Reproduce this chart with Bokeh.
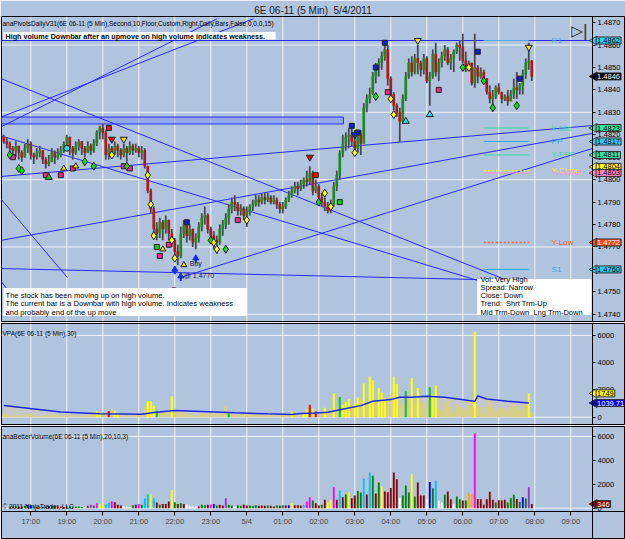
from math import pi
from bokeh.plotting import figure
from bokeh.models import Range1d, FixedTicker, PrintfTickFormatter, Label, LinearAxis, Title
from bokeh.layouts import column
from bokeh.embed import file_html
from bokeh.resources import INLINE
from bokeh.core.properties import value

# ---------------- data ----------------
time_labels = ["17:00", "19:00", "20:00", "21:00", "22:00", "23:00", "5/4", "01:00",
               "02:00", "03:00", "04:00", "05:00", "06:00", "07:00", "08:00", "09:00"]
time_bars = [9, 21, 33, 45, 57, 69, 81, 93, 105, 117, 129, 141, 153, 165, 177, 189]

price_ticks = [1.4740, 1.4750, 1.4760, 1.4770, 1.4780, 1.4790, 1.4800, 1.4810,
               1.4820, 1.4830, 1.4840, 1.4850, 1.4860, 1.4870]
price_grid = [1.4740, 1.4770, 1.4800, 1.4830, 1.4860]
vol_ticks = [0, 2000, 4000, 6000]
vol_grid = [0, 6000]

first_open = 1.4819
close = [1.4817, 1.4816, 1.4814, 1.4813, 1.4815, 1.4812, 1.4810, 1.4814, 1.4816, 1.4811,
         1.4810, 1.4812, 1.4813, 1.4809, 1.4807, 1.4808, 1.4812, 1.4810, 1.4811, 1.4813,
         1.4816, 1.4819, 1.4814, 1.4812, 1.4815, 1.4817, 1.4814, 1.4812, 1.4815, 1.4813,
         1.4816, 1.4821, 1.4823, 1.4821, 1.4811, 1.4814, 1.4812, 1.4815, 1.4813, 1.4811,
         1.4814, 1.4812, 1.4815, 1.4813, 1.4814, 1.4812, 1.4813, 1.4806, 1.4795, 1.4787,
         1.4778, 1.4776, 1.4781, 1.4778, 1.4782, 1.4776, 1.4773, 1.4768, 1.4766, 1.4776,
         1.4780, 1.4775, 1.4778, 1.4772, 1.4774, 1.4779, 1.4783, 1.4784, 1.4778, 1.4775,
         1.4773, 1.4772, 1.4778, 1.4780, 1.4783, 1.4787, 1.4790, 1.4789, 1.4786, 1.4787,
         1.4784, 1.4786, 1.4788, 1.4789, 1.4791, 1.4790, 1.4792, 1.4791, 1.4792, 1.4790,
         1.4791, 1.4789, 1.4787, 1.4788, 1.4791, 1.4793, 1.4795, 1.4797, 1.4796, 1.4798,
         1.4800, 1.4799, 1.4803, 1.4795, 1.4797, 1.4792, 1.4790, 1.4788, 1.4786, 1.4789,
         1.4797, 1.4802, 1.4812, 1.4816, 1.4819, 1.4820, 1.4817, 1.4814, 1.4820, 1.4816,
         1.4832, 1.4836, 1.4838, 1.4846, 1.4850, 1.4852, 1.4855, 1.4858, 1.4845, 1.4838,
         1.4833, 1.4830, 1.4826, 1.4836, 1.4846, 1.4852, 1.4848, 1.4854, 1.4852, 1.4849,
         1.4854, 1.4844, 1.4846, 1.4856, 1.4848, 1.4852, 1.4855, 1.4858, 1.4852, 1.4854,
         1.4857, 1.4860, 1.4859, 1.4853, 1.4850, 1.4852, 1.4843, 1.4850, 1.4846, 1.4848,
         1.4845, 1.4839, 1.4836, 1.4837, 1.4841, 1.4839, 1.4836, 1.4837, 1.4835, 1.4838,
         1.4841, 1.4840, 1.4842, 1.4847, 1.4852, 1.4853, 1.4846]
high = [1.4820, 1.4819, 1.4817, 1.4815, 1.4817, 1.4815, 1.4813, 1.4816, 1.4818, 1.4817,
        1.4812, 1.4814, 1.4815, 1.4813, 1.4810, 1.4811, 1.4814, 1.4813, 1.4814, 1.4815,
        1.4817, 1.4820, 1.4819, 1.4815, 1.4817, 1.4818, 1.4817, 1.4815, 1.4817, 1.4816,
        1.4818, 1.4822, 1.4824, 1.4825, 1.4822, 1.4816, 1.4815, 1.4817, 1.4816, 1.4814,
        1.4816, 1.4815, 1.4817, 1.4816, 1.4816, 1.4815, 1.4815, 1.4814, 1.4806, 1.4796,
        1.4788, 1.4781, 1.4783, 1.4782, 1.4784, 1.4782, 1.4778, 1.4774, 1.4771, 1.4779,
        1.4782, 1.4781, 1.4780, 1.4778, 1.4776, 1.4781, 1.4785, 1.4788, 1.4785, 1.4779,
        1.4777, 1.4775, 1.4780, 1.4782, 1.4785, 1.4789, 1.4792, 1.4793, 1.4790, 1.4789,
        1.4788, 1.4788, 1.4789, 1.4791, 1.4793, 1.4793, 1.4794, 1.4794, 1.4794, 1.4793,
        1.4793, 1.4792, 1.4790, 1.4790, 1.4792, 1.4795, 1.4797, 1.4799, 1.4799, 1.4800,
        1.4801, 1.4804, 1.4806, 1.4804, 1.4800, 1.4798, 1.4794, 1.4792, 1.4790, 1.4791,
        1.4799, 1.4804, 1.4813, 1.4820, 1.4821, 1.4823, 1.4824, 1.4822, 1.4822, 1.4822,
        1.4834, 1.4838, 1.4841, 1.4848, 1.4852, 1.4854, 1.4857, 1.4862, 1.4860, 1.4846,
        1.4839, 1.4834, 1.4832, 1.4838, 1.4848, 1.4854, 1.4855, 1.4856, 1.4860, 1.4853,
        1.4856, 1.4855, 1.4848, 1.4858, 1.4861, 1.4854, 1.4857, 1.4860, 1.4859, 1.4856,
        1.4858, 1.4861, 1.4862, 1.4865, 1.4857, 1.4853, 1.4850, 1.4865, 1.4851, 1.4850,
        1.4849, 1.4845, 1.4842, 1.4840, 1.4842, 1.4843, 1.4839, 1.4838, 1.4840, 1.4840,
        1.4845, 1.4848, 1.4843, 1.4849, 1.4854, 1.4861, 1.4853]
low = [1.4816, 1.4814, 1.4812, 1.4811, 1.4810, 1.4809, 1.4808, 1.4810, 1.4812, 1.4809,
       1.4807, 1.4809, 1.4810, 1.4807, 1.4805, 1.4806, 1.4808, 1.4807, 1.4809, 1.4810,
       1.4812, 1.4815, 1.4811, 1.4809, 1.4811, 1.4813, 1.4811, 1.4810, 1.4812, 1.4811,
       1.4812, 1.4815, 1.4818, 1.4818, 1.4809, 1.4809, 1.4810, 1.4811, 1.4810, 1.4809,
       1.4810, 1.4808, 1.4811, 1.4811, 1.4812, 1.4810, 1.4809, 1.4805, 1.4794, 1.4785,
       1.4775, 1.4773, 1.4774, 1.4773, 1.4776, 1.4773, 1.4770, 1.4765, 1.4762, 1.4765,
       1.4774, 1.4772, 1.4773, 1.4770, 1.4769, 1.4772, 1.4777, 1.4780, 1.4776, 1.4772,
       1.4769, 1.4767, 1.4771, 1.4775, 1.4778, 1.4780, 1.4785, 1.4786, 1.4784, 1.4784,
       1.4782, 1.4779, 1.4784, 1.4786, 1.4788, 1.4788, 1.4789, 1.4789, 1.4790, 1.4789,
       1.4789, 1.4787, 1.4785, 1.4785, 1.4787, 1.4790, 1.4792, 1.4794, 1.4793, 1.4795,
       1.4796, 1.4797, 1.4798, 1.4793, 1.4794, 1.4790, 1.4788, 1.4786, 1.4785, 1.4785,
       1.4788, 1.4795, 1.4800, 1.4810, 1.4813, 1.4814, 1.4815, 1.4811, 1.4812, 1.4811,
       1.4818, 1.4830, 1.4834, 1.4838, 1.4843, 1.4846, 1.4849, 1.4853, 1.4842, 1.4836,
       1.4831, 1.4828, 1.4817, 1.4825, 1.4835, 1.4845, 1.4846, 1.4847, 1.4847, 1.4846,
       1.4847, 1.4843, 1.4833, 1.4845, 1.4846, 1.4844, 1.4850, 1.4853, 1.4851, 1.4849,
       1.4848, 1.4856, 1.4853, 1.4852, 1.4848, 1.4849, 1.4842, 1.4841, 1.4843, 1.4845,
       1.4844, 1.4838, 1.4834, 1.4833, 1.4836, 1.4838, 1.4834, 1.4835, 1.4833, 1.4836,
       1.4836, 1.4836, 1.4838, 1.4838, 1.4845, 1.4849, 1.4844]

volume = [250, 200, 140, 140, 170, 140, 140, 200, 280, 250,
          140, 110, 90, 110, 140, 170, 200, 170, 140, 140,
          110, 170, 140, 140, 140, 140, 110, 90, 200, 280,
          220, 420, 330, 390, 330, 450, 590, 500, 280, 220,
          140, 140, 110, 250, 280, 360, 280, 810, 1170, 1170,
          840, 470, 310, 360, 360, 560, 1530, 500, 360, 420,
          360, 280, 200, 140, 140, 140, 280, 250, 280, 310,
          360, 220, 280, 220, 840, 280, 220, 140, 250, 200,
          310, 220, 220, 200, 250, 200, 220, 200, 220, 200,
          140, 220, 200, 250, 220, 250, 420, 250, 250,
          220, 280, 560, 920, 640, 420, 220, 280, 700, 470,
          700, 1760, 700, 1480, 920, 1140, 1310, 840, 1060, 1450,
          1310, 2480, 1140, 2990, 2710, 1230, 2150, 1810, 1400, 1340,
          1700, 2990, 2430, 840, 1060, 1900, 1310, 2850, 980, 2150,
          1060, 1060, 750, 2200, 1670, 2320, 640, 470, 1120, 1400,
          750, 360, 980, 750, 640, 640, 1260, 1170, 6280, 780,
          750, 280, 750, 1370, 700, 470, 670, 640, 700, 470,
          840, 1120, 780, 530, 920, 810, 1749, 346]

# anaBetterVolume bar classes (W white, G green, R dark red, B blue, M magenta, C cyan, Y yellow, O orange, P purple)
bv_class = ("WWGRGRRGBB" "GRGRGRGRRR" "RGGGGGGWGM" "GMYYCCMRRR" "WWWGRMGCCY"
            "CRGRRRYGRG" "RWWWWRGGRM" "BGRRPGGWGG" "RRGGGRRRGR" "RGRGRBYRR"
            "RCMMGRRGRY" "YMRCRGYRRG" "GCRCGRGYRR" "RRRWGGGYGR" "RRWBGCWWGR"
            "RWGGRGOOMR" "RRRRRGRRRG" "GGRGBGPR")

# VPA classes: bars not listed are normal (khaki)
vpa_yellow = [31, 32, 37, 38, 48, 49, 50, 56, 96, 100, 101, 103, 107, 110, 113, 114, 115,
              117, 118, 120, 122, 123, 125, 126, 127, 130, 131, 136, 138, 143, 144, 157, 175]
vpa_green = [51, 75, 112, 134, 142]
vpa_red = [35, 102, 104]

# VPA 30-bar volume average
ma_bars = [0, 19, 32, 46, 50, 57, 66, 77, 88, 96, 99, 104, 108, 112, 119, 123, 129, 132,
           136, 141, 147, 155, 157, 158, 161, 168, 175]
ma_vals = [860, 390, 245, 220, 340, 490, 415, 320, 245, 200, 270, 300, 370, 540, 850, 1170,
           1290, 1460, 1460, 1540, 1460, 1220, 1170, 1560, 1340, 1170, 1040]
ma_last = 1039.71

# daily pivots
pivot_names = ["R1", "Y-Mid", "PP", "Y-PPP", "Y-Close", "Y-VWAP", "Y-Low", "S1"]
pivot_levels = [1.4862, 1.4823, 1.4817, 1.4811, 1.4804, 1.4803, 1.4772, 1.4760]
pivot_colors = ["#5AA8F0", "#3CD6A0", "#28A8E8", "#3CD6A0", "#F0F020", "#FF8CC8", "#FF5A28", "#28A8E8"]
pivot_dash = ["solid", "solid", "solid", "solid", "2 2", "solid", "2 2", "solid"]
pivot_tag_bg = ["#38C8F8", "#3CE0A0", "#38C8F8", "#3CE0A0", "#FFFF30", "#FF88C8", "#FF4A18", "#38C8F8"]
pivot_tag_fg = ["black", "black", "black", "black", "black", "black", "white", "black"]
pivot_from, pivot_to = 160, 175
last_price = 1.4846

# drawn trend lines (bar index, price) -> (bar index, price)
tl_x0 = [-1, -1.1, -1.1, -1.1, -1.1, -1.1, -1.1, 58.9, -1.1, -1.1, -1.1]
tl_y0 = [1.4862, 1.48234, 1.48278, 1.48451, 1.48196, 1.48014, 1.47729, 1.47564, 1.47604, 1.47916, 1.47551]
tl_x1 = [196.2, 71.1, 83.2, 196.2, 157.9, 196.2, 196.2, 196.2, 157.9, 21.2, 3.9]
tl_y1 = [1.4862, 1.48717, 1.48717, 1.47400, 1.47551, 1.48241, 1.48206, 1.48139, 1.47555, 1.47564, 1.47462]
zone_left, zone_right, zone_bottom, zone_top = -1, 113.2, 1.48248, 1.48279

# signal markers (bar index, price)
pink_sq_x = [3, 14, 19, 23, 40, 42, 52, 55, 78, 128, 145]
pink_sq_y = [1.4810, 1.4802, 1.4802, 1.4805, 1.4806, 1.4805, 1.4766, 1.4771, 1.4782, 1.4839, 1.4840]
red_sq_x = [35, 104]
red_sq_y = [1.4823, 1.4802]
blue_sq_x = [61, 116, 118, 124, 127, 158, 172]
blue_sq_y = [1.4781, 1.4824, 1.4821, 1.4850, 1.4861, 1.4857, 1.4845]
green_sq_x = [51, 112]
green_sq_y = [1.4770, 1.4790]
green_dia_x = [2, 5, 6, 27, 30, 41, 69, 74, 105, 124, 153, 160, 163, 171]
green_dia_y = [1.4811, 1.4805, 1.4804, 1.4808, 1.4806, 1.4806, 1.4773, 1.4769, 1.4790, 1.4837,
               1.4850, 1.4844, 1.4832, 1.4833]
yellow_dia_x = [36, 48, 49, 50, 56, 57, 70, 71, 81, 107, 109, 117, 129, 130, 155]
yellow_dia_y = [1.4811, 1.4802, 1.4789, 1.4775, 1.4773, 1.4765, 1.4772, 1.4769, 1.4782, 1.4794,
                1.4788, 1.4812, 1.4836, 1.4829, 1.4850]
ytri_dn_x = [40, 138, 175]
ytri_dn_y = [1.4818, 1.4862, 1.4859]
rtri_dn_x = [36, 102]
rtri_dn_y = [1.4818, 1.4810]
btri_dn_x = [117]
btri_dn_y = [1.4820]
ytri_up_x = [20, 24, 53, 60]
ytri_up_y = [1.4805, 1.4806, 1.4769, 1.4762]
gtri_up_x = [15]
gtri_up_y = [1.4801]
ctri_up_x = [134, 142]
ctri_up_y = [1.4826, 1.4829]
ccirc_x = [21]
ccirc_y = [1.4814]
buy_x = [57, 59, 64]
buy_y = [1.4760, 1.4757, 1.4765]

# ---------------- style ----------------
BG = "#B0C4DE"
GRID = "#EEF1F4"
FONT = "Liberation Sans"
TL = "#2A2AFF"
W = 625
X0, X1 = -0.77, 206.9          # frame spans the whole width; price area ends at AXIS_X
AXIS_X = 196.23


def base_fig(height, yr, top, bottom, grid_y, grid_bottom):
    p = figure(width=W, height=height, output_backend="svg", toolbar_location=None,
               x_range=Range1d(X0, X1), y_range=Range1d(*yr),
               x_axis_location=None, y_axis_location=None,
               min_border_left=1, min_border_right=1, min_border_top=top, min_border_bottom=bottom,
               background_fill_color=BG, border_fill_color=BG,
               outline_line_color="black", outline_line_width=1)
    p.xgrid.visible = False
    p.ygrid.visible = False
    p.segment(x0=time_bars, x1=time_bars, y0=[grid_bottom] * len(time_bars), y1=[yr[1]] * len(time_bars),
              line_color=GRID, line_width=1)
    p.segment(x0=[X0] * len(grid_y), x1=[AXIS_X] * len(grid_y), y0=grid_y, y1=grid_y,
              line_color=GRID, line_width=1)
    return p


def add_yaxis(p, ticks, fmt):
    ax = LinearAxis(fixed_location=AXIS_X, ticker=FixedTicker(ticks=ticks),
                    formatter=PrintfTickFormatter(format=fmt))
    ax.axis_line_color = "black"
    ax.major_tick_line_color = "black"
    ax.major_tick_out = 3
    ax.major_tick_in = 0
    ax.minor_tick_line_color = None
    ax.major_label_standoff = 2
    ax.major_label_text_font = FONT
    ax.major_label_text_font_size = "7.5px"
    ax.major_label_text_color = "black"
    p.add_layout(ax, "right")
    return ax


def lab(p, fl, fb, X, Y, text, size="8px", color="black", align="left", baseline="middle",
        bold=False, font=FONT):
    p.add_layout(Label(x=X - fl, y=fb - Y, x_units="screen", y_units="screen", text=text,
                       text_font=font, text_font_size=size, text_color=color, text_align=align,
                       text_baseline=baseline, text_font_style="bold" if bold else "normal"))


def tag(p, ypos, text, bg, fg):
    p.scatter([AXIS_X + 0.6], [ypos], marker="triangle", angle=pi / 2, size=9,
              fill_color=bg, line_color="#303030", line_width=0.8)
    p.add_layout(Label(x=AXIS_X + 1.2, y=ypos, x_units="data", y_units="data", text=text,
                       text_font=FONT, text_font_size="7.5px", text_color=fg, text_align="left",
                       text_baseline="middle", background_fill_color=bg,
                       border_line_color="#303030", padding=1))


# ---------------- price panel ----------------
Y1 = (1.47368, 1.48727)
p1 = base_fig(322, Y1, 16, 1, price_grid, Y1[0])
p1.title = Title(text="6E 06-11 (5 Min)\u00A0\u00A05/4/2011", align="center", text_font=FONT,
                 text_font_size="10px", text_font_style="normal", text_color="#202020",
                 standoff=1, offset=0)
add_yaxis(p1, price_ticks, "%.4f")
FL1, FB1 = 1, 321

p1.quad(left=[zone_left], right=[zone_right], bottom=[zone_bottom], top=[zone_top],
        fill_color="#8098F0", fill_alpha=0.6, line_color=TL, line_width=1)
p1.segment(x0=tl_x0, y0=tl_y0, x1=tl_x1, y1=tl_y1, line_color=TL, line_width=1)

n = len(close)
bars = list(range(n))
opens = [first_open] + close[:-1]
btop = [max(o, c) for o, c in zip(opens, close)]
bbot = [min(o, c) for o, c in zip(opens, close)]
bcol = ["#1E8C1E" if c >= o else "#B01818" for o, c in zip(opens, close)]
p1.segment(x0=bars, y0=high, x1=bars, y1=low, line_color="#7A8490", line_width=2)
p1.segment(x0=bars, y0=high, x1=bars, y1=low, line_color="#303030", line_width=1)
p1.vbar(x=bars, top=btop, bottom=bbot, width=0.55, fill_color=bcol, line_color=bcol, line_width=1)

for lvl, col, dsh in zip(pivot_levels, pivot_colors, pivot_dash):
    p1.segment(x0=[pivot_from], y0=[lvl], x1=[pivot_to], y1=[lvl], line_color=col,
               line_width=1.5 if dsh != "solid" else 1, line_dash=dsh)
p1.text(x=[182.6] * len(pivot_names), y=pivot_levels, text=pivot_names, text_color=pivot_colors,
        text_font=value(FONT), text_font_size="8px", text_baseline="middle", text_align="left")

OUT = "#202020"
p1.scatter(pink_sq_x, pink_sq_y, marker="square", size=5, fill_color="#F0288C", line_color=OUT)
p1.scatter(red_sq_x, red_sq_y, marker="square", size=5, fill_color="#F01010", line_color=OUT)
p1.scatter(blue_sq_x, blue_sq_y, marker="square", size=5, fill_color="#1020D0", line_color=OUT)
p1.scatter(green_sq_x, green_sq_y, marker="square", size=5, fill_color="#10D010", line_color=OUT)
p1.scatter(green_dia_x, green_dia_y, marker="diamond", size=8, fill_color="#10E010", line_color=OUT)
p1.scatter(yellow_dia_x, yellow_dia_y, marker="diamond", size=8, fill_color="#FFFF10", line_color=OUT)
p1.scatter(ytri_dn_x, ytri_dn_y, marker="inverted_triangle", size=7, fill_color="#F0E020", line_color=OUT)
p1.scatter(rtri_dn_x, rtri_dn_y, marker="inverted_triangle", size=7, fill_color="#E01010", line_color=OUT)
p1.scatter(btri_dn_x, btri_dn_y, marker="inverted_triangle", size=7, fill_color="#1030E0", line_color=OUT)
p1.scatter(ytri_up_x, ytri_up_y, marker="triangle", size=6, fill_color="#F0E020", line_color=OUT)
p1.scatter(gtri_up_x, gtri_up_y, marker="triangle", size=7, fill_color="#20C020", line_color=OUT)
p1.scatter(ctri_up_x, ctri_up_y, marker="triangle", size=7, fill_color="#30E0E0", line_color=OUT)
p1.scatter(ccirc_x, ccirc_y, marker="circle", size=6, fill_color="#30D8E0", line_color=OUT)
p1.segment(x0=buy_x, y0=[b - 0.00022 for b in buy_y], x1=buy_x, y1=buy_y, line_color="#1428E0", line_width=2)
p1.scatter(buy_x, buy_y, marker="triangle", size=6, fill_color="#1428E0", line_color="#1428E0")
p1.text(x=[62, 60, 56], y=[1.47625, 1.47575, 1.4751], text=["Buy", "@ 1.4770", "Buy"],
        text_font=value(FONT), text_font_size="7px", text_color="#202040", text_baseline="middle")

lab(p1, FL1, FB1, 2, 23, "anaPivotsDailyV31(6E 06-11 (5 Min),Second,10,Floor,Custom,Right,Daily,Bars,False,0,0,0,15)",
    size="6.5px")
lab(p1, FL1, FB1, 579, 30, "\u25B7|", size="15px", font="DejaVu Sans", color="#202020", align="center")
p1.quad(left=[-0.1], right=[90.6], bottom=[1.48624], top=[1.48658], fill_color="white", line_color=None)
lab(p1, FL1, FB1, 5, 35.5, "High volume Downbar after an upmove on high volume indicates weakness.",
    size="7.2px", bold=True)
p1.quad(left=[-0.1], right=[81.1], bottom=[1.47393], top=[1.47517], fill_color="white", line_color=None)
for k, t in enumerate(["The stock has been moving up on high volume.",
                       "The current bar is a Downbar with high volume. Indicates weakness",
                       "and probably end of the up move"]):
    lab(p1, FL1, FB1, 5, 295 + 8.3 * k, t, size="7.6px")
p1.quad(left=[157.8], right=[195.9], bottom=[1.47397], top=[1.47557], fill_color="white", line_color=None)
for k, t in enumerate(["Vol: Very High", "Spread: Narrow", "Close: Down", "Trend:\u00A0\u00A0Shrt Trm-Up",
                       "Mid Trm-Down\u00A0\u00A0Lng Trm-Down"]):
    lab(p1, FL1, FB1, 480, 278.7 + 8.2 * k, t, size="7.5px")

# price tags on the axis (order = drawing order; Y-Close tag sits just above the VWAP one)
tag_shift = {4: 0.00017}
for k in [0, 6, 7, 2, 1, 3, 4, 5]:
    tag(p1, pivot_levels[k] + tag_shift.get(k, 0), "%.4f" % pivot_levels[k], pivot_tag_bg[k], pivot_tag_fg[k])
tag(p1, last_price, "%.4f" % last_price, "black", "white")

# ---------------- VPA panel ----------------
Y2 = (-536, 6877)
p2 = base_fig(103, Y2, 1, 1, vol_grid, Y2[0])
add_yaxis(p2, vol_ticks, "%d")
FL2, FB2 = 1, 424
p2.varea(x=ma_bars, y1=[0] * len(ma_bars), y2=ma_vals, fill_color="#C4C7CC")
vcol, vwid = [], []
for i in bars:
    if i in vpa_yellow:
        vcol.append("#FFFF00"); vwid.append(0.7)
    elif i in vpa_green:
        vcol.append("#20C020"); vwid.append(0.7)
    elif i in vpa_red:
        vcol.append("#F01010"); vwid.append(0.7)
    else:
        vcol.append("#D6CF86"); vwid.append(1.0)
p2.vbar(x=bars, top=volume, bottom=0, width=vwid, fill_color=vcol, line_color=None)
p2.line(ma_bars, ma_vals, line_color="#1E28E6", line_width=1.5)
lab(p2, FL2, FB2, 2, 333, "VPA(6E 06-11 (5 Min),30)", size="6.5px")
tag(p2, volume[-2], str(volume[-2]), "#FFFF00", "black")
tag(p2, ma_last, "%.2f" % ma_last, "#0000F0", "white")

# ---------------- Better Volume panel ----------------
Y3 = (-2536, 6838)
AXIS_Y3 = -276
p3 = base_fig(114, Y3, 1, 1, vol_grid, AXIS_Y3)
add_yaxis(p3, vol_ticks, "%d")
xa = LinearAxis(fixed_location=AXIS_Y3, ticker=FixedTicker(ticks=time_bars))
xa.major_label_overrides = {b: t for b, t in zip(time_bars, time_labels)}
xa.axis_line_color = "black"
xa.major_tick_line_color = "black"
xa.major_tick_out = 4
xa.major_tick_in = 0
xa.minor_tick_line_color = None
xa.major_label_standoff = 2
xa.major_label_text_font = FONT
xa.major_label_text_font_size = "7.5px"
p3.add_layout(xa, "below")
FL3, FB3 = 1, 538
bv_map = {"W": "#FFFFFF", "G": "#008000", "R": "#8B0000", "B": "#0000FF", "M": "#FF00FF",
          "C": "#00BFFF", "Y": "#FFFF00", "O": "#FFA500", "P": "#9932CC"}
p3.vbar(x=bars, top=volume, bottom=0, width=0.62, fill_color=[bv_map[c] for c in bv_class], line_color=None)
lab(p3, FL3, FB3, 2, 436, "anaBetterVolume(6E 06-11 (5 Min),20,10,3)", size="6.5px")
lab(p3, FL3, FB3, 2, 506, "\u00A9 2011 NinjaTrader, LLC", size="6.5px")
tag(p3, volume[-1], str(volume[-1]), "#8B0000", "white")

layout = column(p1, p2, p3, spacing=0)
open("out.html", "w").write(file_html(layout, INLINE))
